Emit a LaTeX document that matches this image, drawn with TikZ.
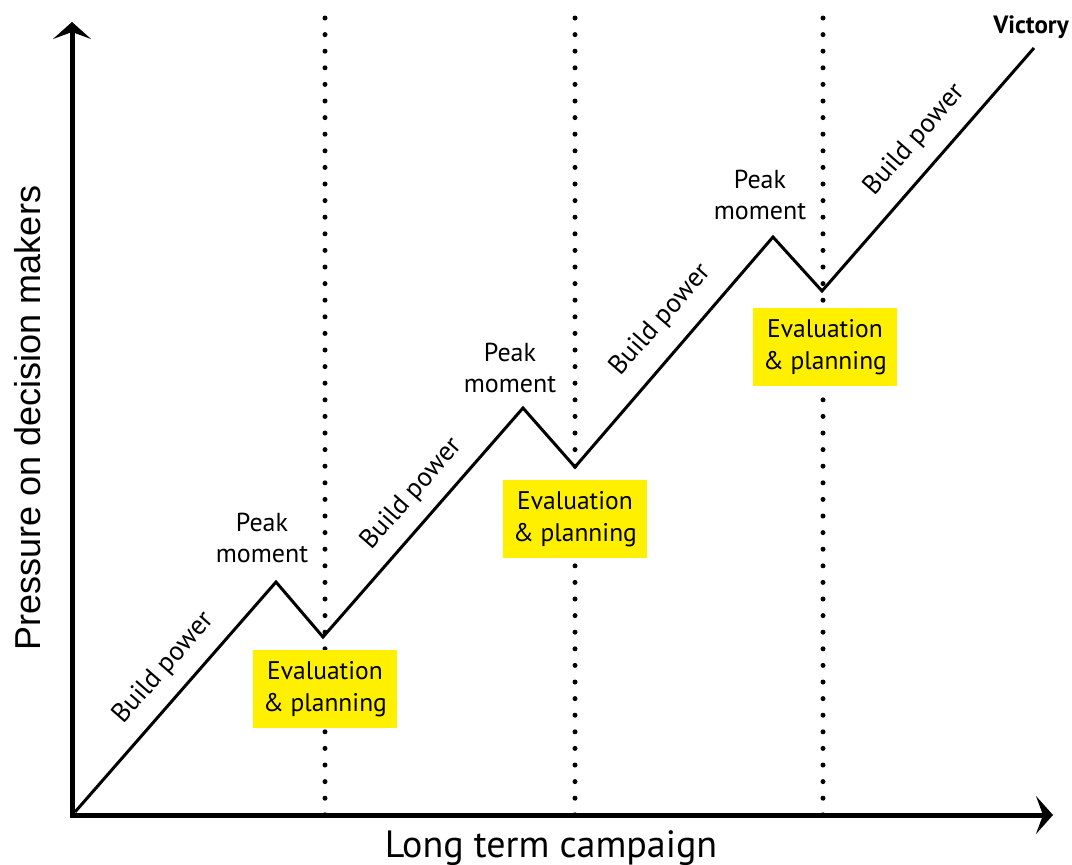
\documentclass[tikz,border=0pt]{standalone}
\usepackage{fontspec}
\setmainfont{PT Sans}
\newfontfamily\axisfont{Liberation Sans}
\usetikzlibrary{arrows.meta}
\definecolor{evalyellow}{RGB}{255,240,0}
\begin{document}
\begin{tikzpicture}[x=1pt,y=-1pt,
  axis/.style={line width=5pt,-{Stealth[length=17pt,width=38pt,inset=7pt]}},
  divider/.style={line width=5pt,line cap=round,dash pattern=on 0pt off 16.6pt},
  trend/.style={line width=3pt,line join=miter},
  lbl/.style={font=\fontsize{26}{31.5}\selectfont,align=center,inner sep=0pt},
  evalbox/.style={fill=evalyellow,minimum width=144pt,minimum height=78pt,
    font=\fontsize{25.5}{32}\selectfont,align=center,inner sep=0pt},
  buildlbl/.style={lbl,font=\fontsize{27}{31}\selectfont,rotate=48.8}]
\useasboundingbox (0,0) rectangle (1072,865);

% phase dividers
\foreach \x/\n in {325/a,575/b,823/c}{
  \coordinate (top\n) at (\x,18);
  \coordinate (bot\n) at (\x,815);
  \draw[divider] (top\n) -- (bot\n);
}

% axes
\coordinate (origin) at (72,815);
\coordinate (ytip) at (72,22);
\coordinate (xtip) at (1053,815);
\draw[axis] ([yshift=2.5pt]origin) -- (ytip);
\draw[axis] ([xshift=-2.5pt]origin) -- (xtip);

% pressure curve
\coordinate (p0) at (75,812);
\coordinate (p1) at (276,582);
\coordinate (p2) at (323,637);
\coordinate (p3) at (523,408);
\coordinate (p4) at (575,467);
\coordinate (p5) at (773,237);
\coordinate (p6) at (822,291);
\coordinate (p7) at (1034,48);
\draw[trend] (p0) -- (p1) -- (p2) -- (p3) -- (p4) -- (p5) -- (p6) -- (p7);

% evaluation boxes
\node[evalbox] (eval1) at (325,689) {Evaluation\\\& planning};
\node[evalbox] (eval2) at (575,519) {Evaluation\\\& planning};
\node[evalbox] (eval3) at (825,347) {Evaluation\\\& planning};

% peak labels
\node[lbl] (peak1) at (262,538) {Peak\\moment};
\node[lbl] (peak2) at (510,368) {Peak\\moment};
\node[lbl] (peak3) at (760,195) {Peak\\moment};

% build power labels
\node[buildlbl] (build1) at (164,668) {Build power};
\node[buildlbl] (build2) at (412,494) {Build power};
\node[buildlbl] (build3) at (661,320) {Build power};
\node[buildlbl] (build4) at (915,140) {Build power};

\node[inner sep=0pt,font=\fontsize{25}{28}\selectfont\bfseries] (victory) at (1031,27) {Victory};

% axis titles
\node[inner sep=0pt,font=\fontsize{38}{42}\selectfont] (xtitle) at (551,848) {Long term campaign};
\node[inner sep=0pt,rotate=90,font=\axisfont\fontsize{36}{40}\selectfont] (ytitle) at (28,418) {Pressure on decision makers};
\end{tikzpicture}
\end{document}
